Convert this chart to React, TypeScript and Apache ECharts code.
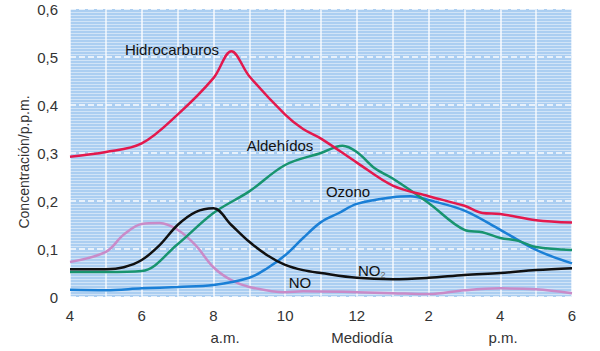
import React, { useEffect, useRef } from "react";
import * as echarts from "echarts";

const hydrocarbonData: [number, number][] = [
  [4, 0.292], [5, 0.302], [6, 0.32], [7, 0.38], [8, 0.456], [8.5, 0.512], [9, 0.46],
  [10, 0.38], [10.5, 0.35], [11, 0.33], [12, 0.28], [13, 0.232], [14, 0.21],
  [15, 0.19], [15.5, 0.175], [16, 0.173], [17, 0.16], [18, 0.155],
];
const aldehydeData: [number, number][] = [
  [4, 0.052], [5, 0.052], [6, 0.054], [7, 0.11], [8, 0.175], [9, 0.22], [10, 0.275],
  [11, 0.3], [11.6, 0.315], [12, 0.302], [12.5, 0.268], [13, 0.247], [14, 0.196],
  [15, 0.14], [15.5, 0.135], [16, 0.123], [16.5, 0.117], [17, 0.104], [18, 0.098],
];
const ozoneData: [number, number][] = [
  [4, 0.015], [5, 0.014], [6, 0.018], [7, 0.021], [8, 0.025], [9, 0.04], [9.5, 0.06],
  [10, 0.087], [10.5, 0.123], [11, 0.156], [11.5, 0.175], [12, 0.194], [13, 0.208],
  [13.5, 0.21], [14, 0.202], [15, 0.18], [16, 0.14], [17, 0.098], [18, 0.07],
];
const no2Data: [number, number][] = [
  [4, 0.058], [5, 0.058], [5.5, 0.062], [6, 0.077], [6.5, 0.108], [7, 0.15], [7.5, 0.177],
  [8, 0.185], [8.5, 0.15], [9, 0.115], [9.5, 0.087], [10, 0.067], [10.5, 0.056],
  [11, 0.05], [12, 0.04], [13, 0.037], [14, 0.04], [15, 0.046], [16, 0.05], [17, 0.056], [18, 0.06],
];
const noData: [number, number][] = [
  [4, 0.073], [5, 0.094], [5.5, 0.13], [6, 0.152], [6.5, 0.154], [7, 0.14], [7.5, 0.108],
  [8, 0.062], [8.5, 0.035], [9, 0.021], [10, 0.01], [10.5, 0.012], [12, 0.01], [13, 0.008],
  [14, 0.006], [15, 0.014], [16, 0.018], [17, 0.016], [18, 0.008],
];

const FONT = "'Liberation Sans', Arial, sans-serif";

export default function App() {
  const ref = useRef<HTMLDivElement>(null);
  useEffect(() => {
    if (!ref.current) return;
    const chart = echarts.init(ref.current, undefined, { renderer: "svg" });
    const mk = (name: string, data: [number, number][], color: string) => ({
      name,
      type: "line",
      data,
      smooth: 0.35,
      showSymbol: false,
      symbol: "none",
      lineStyle: { color, width: 2.5 },
      z: 3,
    });
    const textStyle = (text: string, x: number, y: number, extra: any = {}) => ({
      type: "text",
      x,
      y,
      style: {
        text,
        fill: "#111",
        font: `15px ${FONT}`,
        textAlign: "center",
        textVerticalAlign: "middle",
        ...extra,
      },
      z: 10,
    });
    chart.setOption({
      animation: false,
      textStyle: { fontFamily: FONT },
      grid: {
        left: 70,
        right: 28,
        top: 9,
        bottom: 54,
        show: true,
        backgroundColor: "#abcef1",
        borderWidth: 0,
      },
      xAxis: {
        type: "value",
        min: 4,
        max: 18,
        interval: 2,
        axisLine: { show: false },
        axisTick: { show: false },
        axisLabel: {
          color: "#333",
          fontSize: 15,
          margin: 11,
          formatter: (v: number) => String(v > 12 ? v - 12 : v),
        },
        splitLine: { show: true, lineStyle: { color: "rgba(255,255,255,0.9)", width: 1.5 } },
        minorTick: { show: false, splitNumber: 2 },
        minorSplitLine: { show: true, lineStyle: { color: "rgba(255,255,255,0.85)", width: 1.5 } },
      },
      yAxis: {
        type: "value",
        min: 0,
        max: 0.6,
        interval: 0.1,
        axisLine: { show: false },
        axisTick: { show: false },
        axisLabel: {
          color: "#333",
          fontSize: 15,
          margin: 12,
          formatter: (v: number) => (v === 0 ? "0" : v.toFixed(1).replace(".", ",")),
        },
        splitLine: { show: true, lineStyle: { color: "rgba(255,255,255,0.95)", width: 1.5, type: [6, 3] } },
        minorTick: { show: false, splitNumber: 16 },
        minorSplitLine: { show: true, lineStyle: { color: "rgba(255,255,255,0.45)", width: 1 } },
      },
      series: [
        mk("NO", noData, "#c98bc8"),
        mk("Ozono", ozoneData, "#1a7fd6"),
        mk("Aldehídos", aldehydeData, "#18946f"),
        mk("NO2", no2Data, "#111111"),
        mk("Hidrocarburos", hydrocarbonData, "#e3194d"),
      ],
      graphic: [
        textStyle("Hidrocarburos", 172, 49),
        textStyle("Aldehídos", 280, 145),
        textStyle("Ozono", 348, 191),
        textStyle("NO", 300, 282),
        {
          type: "text",
          x: 358,
          y: 270,
          style: {
            text: "{a|NO}{b|2}",
            fill: "#111",
            font: `15px ${FONT}`,
            textVerticalAlign: "middle",
            rich: {
              a: { fontSize: 15, fontFamily: FONT, fill: "#111" },
              b: { fontSize: 9, fontFamily: FONT, fill: "#666", padding: [10, 0, 0, 0] },
            },
          },
          z: 10,
        },
        {
          type: "text",
          x: 24,
          y: 162,
          rotation: Math.PI / 2,
          style: {
            text: "Concentración/p.p.m.",
            fill: "#333",
            font: `14px ${FONT}`,
            textAlign: "center",
            textVerticalAlign: "middle",
          },
        },
        textStyle("a.m.", 225, 337, { fill: "#333" }),
        textStyle("Mediodía", 362, 337, { fill: "#333" }),
        textStyle("p.m.", 503, 337, { fill: "#333" }),
      ],
    });
    return () => chart.dispose();
  }, []);
  return <div ref={ref} style={{ width: 600, height: 351, position: "absolute", left: 0, top: 0 }} />;
}
